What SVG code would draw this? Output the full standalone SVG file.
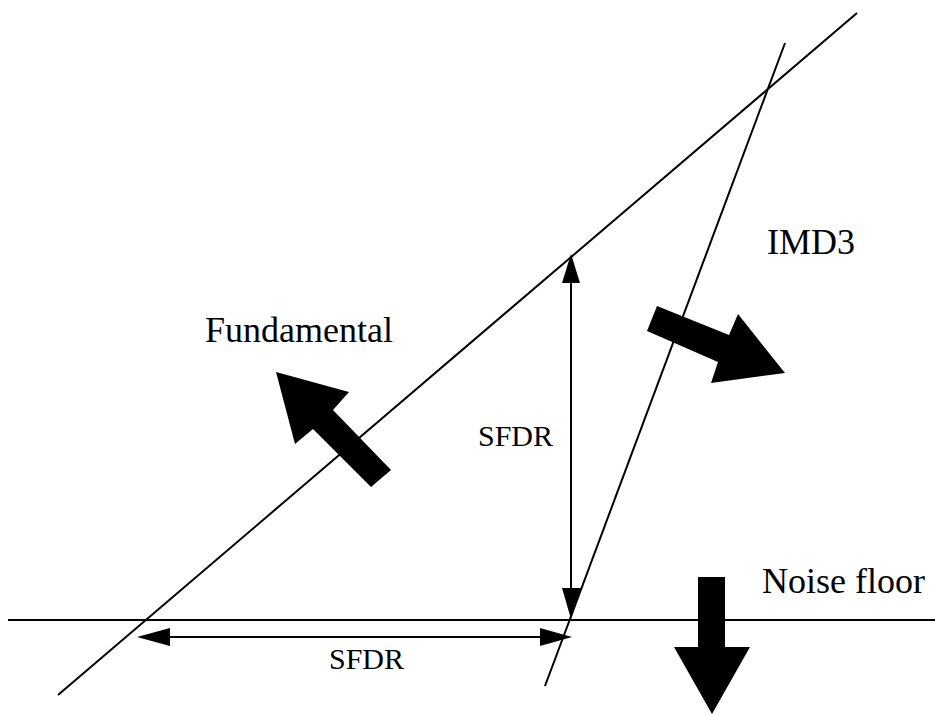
<svg xmlns="http://www.w3.org/2000/svg" width="935" height="715" viewBox="0 0 935 715">
  <style>
    .ln { stroke: #000; stroke-width: 2; fill: none; }
    .blk { fill: #000; stroke: none; }
    .lbl { font-family: "Liberation Serif", "Times New Roman", serif; fill: #000; }
    .big { font-size: 36px; }
    .sm { font-size: 30px; }
  </style>
  <rect width="935" height="715" fill="#fff"/>

  <g id="connectors">
    <!-- fundamental response line -->
    <line class="ln" x1="58" y1="695" x2="857" y2="13"/>
    <!-- third-order intermod line -->
    <line class="ln" x1="785" y1="43" x2="545" y2="686"/>
    <!-- noise floor -->
    <line class="ln" x1="8" y1="620" x2="935" y2="620"/>
    <!-- vertical SFDR dimension -->
    <line class="ln" x1="571" y1="280" x2="571" y2="592"/>
    <polygon class="blk" points="571,254 562,283 580,283"/>
    <polygon class="blk" points="571,619 562,588 581,588"/>
    <!-- horizontal SFDR dimension -->
    <line class="ln" x1="166" y1="637" x2="545" y2="637"/>
    <polygon class="blk" points="137,637 170,628 170,646"/>
    <polygon class="blk" points="572,637 540,628 540,646"/>
  </g>

  <g id="fundamental">
    <polygon class="blk" points="276,372 349,392 333,410 391,470 371,487 313,429 295,444"/>
    <text class="lbl big" x="205" y="342">Fundamental</text>
  </g>

  <g id="imd3">
    <polygon class="blk" points="657,306 647,331 718,362 711,383 785,373 738,314 729,335"/>
    <text class="lbl big" x="767" y="254">IMD3</text>
  </g>

  <g id="noise-floor">
    <polygon class="blk" points="698,577 725,577 725,647 750,647 712,714 674,647 698,647"/>
    <text class="lbl big" x="762" y="593">Noise floor</text>
  </g>

  <g id="sfdr-vertical">
    <text class="lbl sm" x="478" y="446">SFDR</text>
  </g>

  <g id="sfdr-horizontal">
    <text class="lbl sm" x="329" y="669">SFDR</text>
  </g>
</svg>
